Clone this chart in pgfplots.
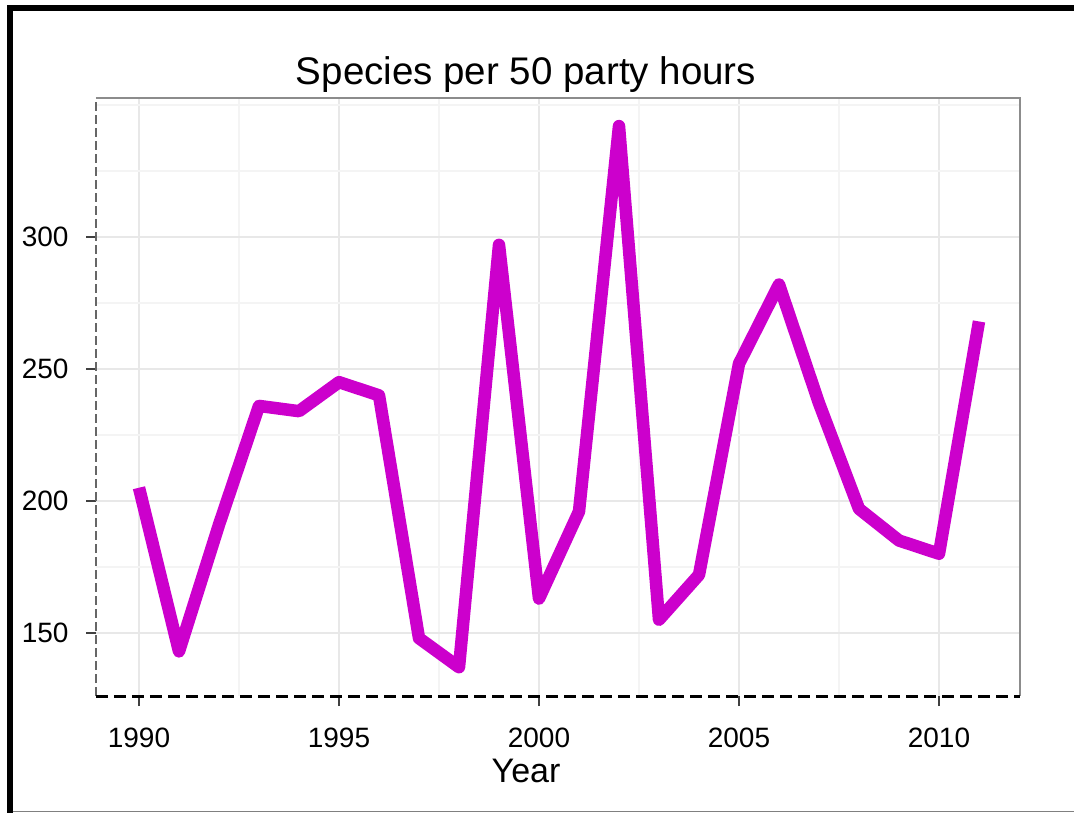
\documentclass[border=0pt]{standalone}
\usepackage{pgfplots}
\pgfplotsset{compat=1.18}
\usepackage{fontspec}
\setmainfont{Liberation Sans}
\definecolor{linemag}{HTML}{CC00CC}
\definecolor{gridmaj}{HTML}{E8E8E8}
\definecolor{gridmin}{HTML}{F4F4F4}
\definecolor{boxgray}{HTML}{8C8C8C}
\begin{document}
\begin{tikzpicture}
\useasboundingbox (0,0) rectangle (1074pt,812pt);
\draw[line width=6pt] (9.7pt,-5pt) -- (9.7pt,803.5pt) -- (1080pt,803.5pt);
\draw[line width=1.2pt, gray] (12.7pt,0.8pt) -- (1080pt,0.8pt);
\begin{axis}[
  at={(96pt,116pt)}, anchor=south west,
  scale only axis, width=924pt, height=598pt,
  xmin=1988.925, xmax=2012.025, ymin=126.1, ymax=352.65,
  xtick={1990,1995,2000,2005,2010}, ytick={150,200,250,300},
  minor xtick={1992.5,1997.5,2002.5,2007.5},
  minor ytick={175,225,275,325,350},
  grid=both,
  major grid style={gridmaj, line width=1.5pt},
  minor grid style={gridmin, line width=1.5pt},
  minor tick length=0pt,
  major tick length=10pt,
  tick align=outside,
  xtick pos=lower, ytick pos=left,
  tick style={color=black!75, line width=1.2pt},
  axis line style={draw=none},
  clip=false,
  /pgf/number format/assume math mode=true,
  /pgf/number format/1000 sep={},
  ticklabel style={font=\fontsize{28}{33}\selectfont, text=black},
  xticklabel style={yshift=-18pt},
  yticklabel style={xshift=-14pt},
  title={Species per 50 party hours},
  title style={font=\fontsize{38.5}{46}\selectfont, at={(rel axis cs:0.4654,1)}, anchor=base, yshift=7pt},
  xlabel={Year},
  xlabel style={font=\fontsize{34}{40}\selectfont, at={(rel axis cs:0.4654,0)}, anchor=base, yshift=-86pt},
]
\draw[boxgray, line width=1.5pt] (rel axis cs:0,1) -- (rel axis cs:1,1) -- (rel axis cs:1,0);
\draw[black!60, line width=2pt, dash pattern=on 9pt off 4pt] (rel axis cs:0,0) -- (rel axis cs:0,1);
\draw[black, line width=3pt, dash pattern=on 12pt off 6pt] (rel axis cs:0,0) -- (rel axis cs:1,0);
\addplot[linemag, line width=12.5pt, line join=round, line cap=butt] coordinates {
(1990,205) (1991,143) (1992,191) (1993,236) (1994,234) (1995,245) (1996,240)
(1997,148) (1998,137) (1999,297) (2000,163) (2001,196) (2002,342) (2003,155)
(2004,172) (2005,252) (2006,282) (2007,237) (2008,197) (2009,185) (2010,180) (2011,268)
};
\end{axis}
\end{tikzpicture}
\end{document}
